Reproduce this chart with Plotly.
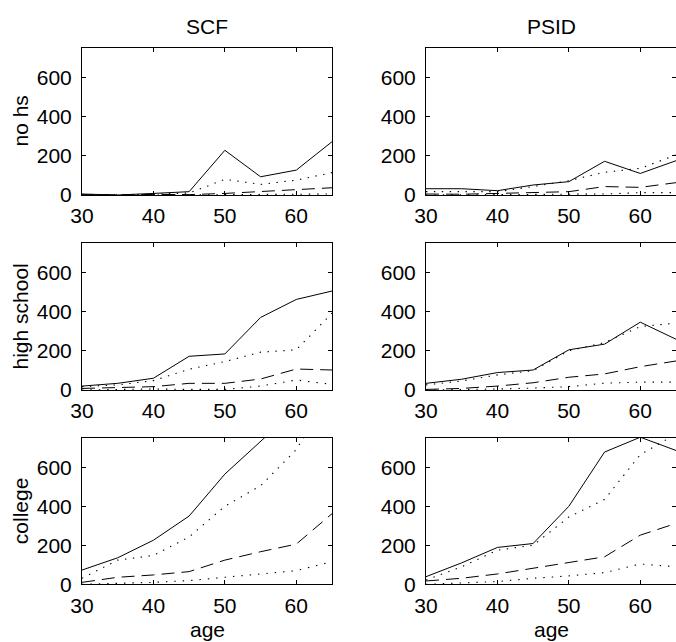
import plotly.graph_objects as go

ages = [30, 35, 40, 45, 50, 55, 60, 65]
col_titles = ["SCF", "PSID"]
row_titles = ["no hs", "high school", "college"]
x_ticks = [30, 40, 50, 60]
y_ticks = [0, 200, 400, 600]

# SCF
scf_nohs_mean = [5, 0, 8, 17, 228, 93, 127, 272]
scf_nohs_p75 = [3, 0, 5, 10, 80, 54, 76, 114]
scf_nohs_med = [2, 0, 3, 2, 8, 17, 25, 37]
scf_nohs_p25 = [1, 0, 2, 0, 2, 3, 4, 5]

scf_hs_mean = [20, 34, 60, 172, 184, 370, 462, 505]
scf_hs_p75 = [17, 26, 48, 106, 145, 193, 205, 392]
scf_hs_med = [8, 12, 17, 34, 34, 56, 107, 102]
scf_hs_p25 = [0, 2, 5, 3, 3, 20, 51, 29]

scf_col_mean = [73, 136, 226, 350, 565, 740, 900, 1000]
scf_col_p75 = [31, 124, 148, 243, 400, 505, 690, 1000]
scf_col_med = [10, 36, 48, 65, 124, 167, 206, 362]
scf_col_p25 = [0, 5, 10, 19, 36, 53, 70, 116]

# PSID
psid_nohs_mean = [32, 32, 22, 51, 68, 172, 110, 175]
psid_nohs_p75 = [17, 17, 17, 43, 73, 116, 136, 204]
psid_nohs_med = [5, 4, 8, 12, 17, 43, 39, 63]
psid_nohs_p25 = [0, 1, 3, 2, 2, 5, 12, 12]

psid_hs_mean = [34, 55, 89, 102, 205, 234, 346, 259]
psid_hs_p75 = [26, 46, 77, 99, 200, 242, 324, 341]
psid_hs_med = [3, 8, 20, 37, 65, 82, 119, 148]
psid_hs_p25 = [0, 2, 5, 10, 17, 35, 40, 40]

psid_col_mean = [39, 110, 189, 209, 400, 678, 754, 686]
psid_col_p75 = [22, 90, 175, 200, 345, 435, 665, 770]
psid_col_med = [17, 31, 53, 82, 110, 141, 252, 312]
psid_col_p25 = [0, 8, 14, 31, 43, 60, 104, 90]

panels = [
    [(scf_nohs_mean, scf_nohs_p75, scf_nohs_med, scf_nohs_p25),
     (psid_nohs_mean, psid_nohs_p75, psid_nohs_med, psid_nohs_p25)],
    [(scf_hs_mean, scf_hs_p75, scf_hs_med, scf_hs_p25),
     (psid_hs_mean, psid_hs_p75, psid_hs_med, psid_hs_p25)],
    [(scf_col_mean, scf_col_p75, scf_col_med, scf_col_p25),
     (psid_col_mean, psid_col_p75, psid_col_med, psid_col_p25)],
]

W, H = 676, 642
x_doms = [(82 / W, 332 / W), (426 / W, 1.0)]
row_px = [(48, 195), (243, 390), (438, 584.3)]
y_doms = [(1 - b / H, 1 - t / H) for (t, b) in row_px]

styles = [
    dict(color="black", width=1, dash="solid"),
    dict(color="black", width=1.1, dash="1.4px,6.5px"),
    dict(color="black", width=1, dash="13px,7px"),
    dict(color="black", width=1.1, dash="1.4px,7px"),
]

FONT = "Liberation Sans, Arial, Helvetica, sans-serif"
TICK_SIZE = 21
fig = go.Figure()
layout = dict(
    width=W, height=H,
    margin=dict(l=0, r=0, t=0, b=0, autoexpand=False),
    paper_bgcolor="white", plot_bgcolor="white",
    showlegend=False,
    font=dict(family=FONT, size=TICK_SIZE, color="black"),
)

idx = 0
for r in range(3):
    for c in range(2):
        idx += 1
        sfx = "" if idx == 1 else str(idx)
        for series, st in zip(panels[r][c], styles):
            fig.add_trace(go.Scatter(
                x=ages, y=series, mode="lines", line=st,
                xaxis="x" + sfx, yaxis="y" + sfx, hoverinfo="skip",
            ))
        layout["xaxis" + sfx] = dict(
            domain=list(x_doms[c]), anchor="y" + sfx, range=[30, 65],
            tickvals=x_ticks, ticks="inside", ticklen=4, tickcolor="black",
            showline=True, linecolor="black", linewidth=1, mirror="ticks",
            showgrid=False, zeroline=False, tickfont=dict(size=TICK_SIZE),
            automargin=False, ticklabelstandoff=2,
        )
        layout["yaxis" + sfx] = dict(
            domain=list(y_doms[r]), anchor="x" + sfx, range=[0, 750],
            tickvals=y_ticks, ticks="inside", ticklen=4, tickcolor="black",
            showline=True, linecolor="black", linewidth=1, mirror="ticks",
            showgrid=False, zeroline=False, tickfont=dict(size=TICK_SIZE),
            automargin=False, ticklabelstandoff=5,
        )

annotations = []
for c, t in enumerate(col_titles):
    xc = (x_doms[c][0] + x_doms[c][1]) / 2
    annotations.append(dict(text=t, x=xc, y=1 - 27 / H, xref="paper", yref="paper",
                            showarrow=False, font=dict(size=21), xanchor="center", yanchor="middle"))
    annotations.append(dict(text="age", x=xc, y=1 - 629 / H, xref="paper", yref="paper",
                            showarrow=False, font=dict(size=21), xanchor="center", yanchor="middle"))
for r, t in enumerate(row_titles):
    yc = (y_doms[r][0] + y_doms[r][1]) / 2
    annotations.append(dict(text=t, x=20 / W, y=yc, xref="paper", yref="paper",
                            showarrow=False, textangle=-90, font=dict(size=21),
                            xanchor="center", yanchor="middle"))
layout["annotations"] = annotations

fig.update_layout(**layout)
fig.write_html(
    "out.html",
    config={"displayModeBar": False},
    post_script="document.body.style.margin='0';document.body.style.overflow='hidden';",
)
